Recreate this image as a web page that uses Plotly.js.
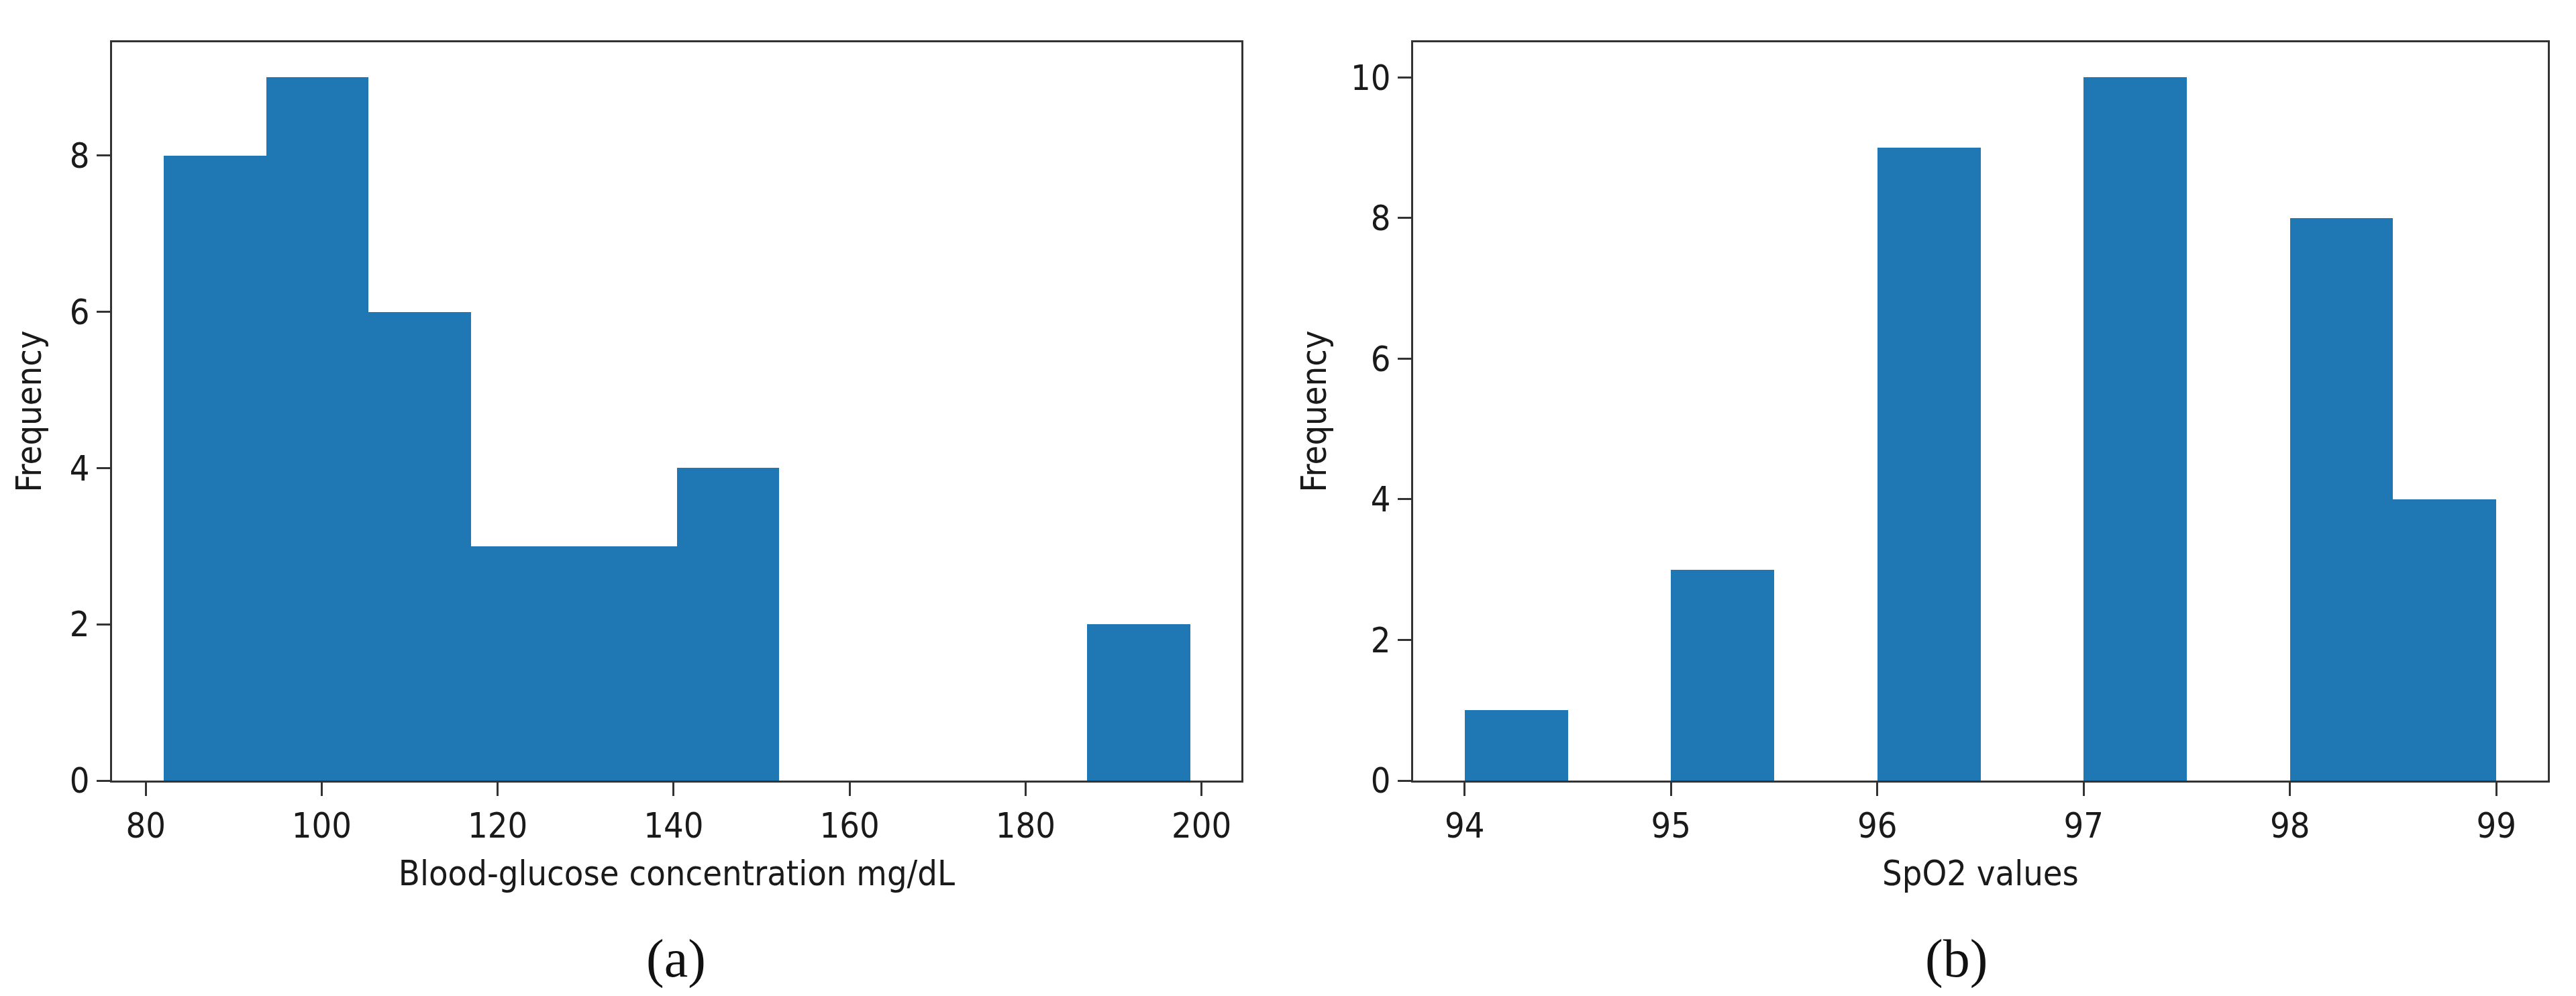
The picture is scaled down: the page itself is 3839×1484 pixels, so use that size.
<!DOCTYPE html>
<html>
<head>
<meta charset="utf-8">
<script src="https://cdn.plot.ly/plotly-3.0.1.min.js"></script>
<style>
  html, body { margin: 0; padding: 0; background: #ffffff; }
  #chart { width: 3839px; height: 1484px; }
</style>
</head>
<body>
<div id="chart"></div>
<script>
// ---- Data ----
// (a) Blood-glucose histogram: bin edges (mg/dL) and counts
const glucoseEdges = [82.0, 93.7, 105.3, 117.0, 128.7, 140.4, 152.0, 163.7, 175.4, 187.0, 198.7];
const glucoseCounts = [8, 9, 6, 3, 3, 4, 0, 0, 0, 2];
const glucoseTicks = [80, 100, 120, 140, 160, 180, 200];
const glucoseYTicks = [0, 2, 4, 6, 8];

// (b) SpO2 histogram: bin edges (%) and counts
const spo2Edges = [94.0, 94.5, 95.0, 95.5, 96.0, 96.5, 97.0, 97.5, 98.0, 98.5, 99.0];
const spo2Counts = [1, 0, 3, 0, 9, 0, 10, 0, 8, 4];
const spo2Ticks = [94, 95, 96, 97, 98, 99];
const spo2YTicks = [0, 2, 4, 6, 8, 10];

const xTitleA = 'Blood-glucose concentration mg/dL';
const xTitleB = 'SpO2 values';
const yTitle = 'Frequency';
const panelLabels = ['(a)', '(b)'];

// ---- Helpers ----
function centers(edges) { const c = []; for (let i = 0; i < edges.length - 1; i++) c.push((edges[i] + edges[i + 1]) / 2); return c; }
function widths(edges) { const w = []; for (let i = 0; i < edges.length - 1; i++) w.push(edges[i + 1] - edges[i]); return w; }
function padRange(edges) { const lo = edges[0], hi = edges[edges.length - 1], m = (hi - lo) * 0.05; return [lo - m, hi + m]; }
function yRange(counts) { return [0, Math.max.apply(null, counts) * 1.05]; }

const W = 3839, H = 1484;
const barColor = '#1f77b4';
const axisColor = '#333333';
const fontFam = '"DejaVu Sans Condensed", "DejaVu Sans", sans-serif';
const tickFont = { family: fontFam, size: 52, color: '#1a1a1a' };
const titleFont = { family: fontFam, size: 52, color: '#1a1a1a' };

const traces = [
  { type: 'bar', x: centers(glucoseEdges), y: glucoseCounts, width: widths(glucoseEdges),
    marker: { color: barColor, line: { width: 0 } }, xaxis: 'x', yaxis: 'y', hoverinfo: 'x+y' },
  { type: 'bar', x: centers(spo2Edges), y: spo2Counts, width: widths(spo2Edges),
    marker: { color: barColor, line: { width: 0 } }, xaxis: 'x2', yaxis: 'y2', hoverinfo: 'x+y' }
];

function baseAxis(extra) {
  return Object.assign({
    showline: true, mirror: true, linecolor: axisColor, linewidth: 3,
    ticks: 'outside', ticklen: 20, tickwidth: 3, tickcolor: axisColor,
    showgrid: false, zeroline: false, tickfont: tickFont, fixedrange: true
  }, extra);
}

const yBottom = (H - 1163) / H, yTop = (H - 63) / H;

const layout = {
  width: W, height: H,
  margin: { l: 0, r: 0, t: 0, b: 0 },
  paper_bgcolor: '#ffffff', plot_bgcolor: '#ffffff',
  showlegend: false, bargap: 0,
  xaxis: baseAxis({ domain: [167 / W, 1850 / W], range: padRange(glucoseEdges), tickmode: 'array', tickvals: glucoseTicks,
    anchor: 'y', title: { text: xTitleA, font: titleFont, standoff: 24 } }),
  yaxis: baseAxis({ domain: [yBottom, yTop], range: yRange(glucoseCounts), tickmode: 'array', tickvals: glucoseYTicks,
    anchor: 'x', title: { text: yTitle, font: titleFont, standoff: 26 } }),
  xaxis2: baseAxis({ domain: [2106 / W, 3797 / W], range: padRange(spo2Edges), tickmode: 'array', tickvals: spo2Ticks,
    anchor: 'y2', title: { text: xTitleB, font: titleFont, standoff: 24 } }),
  yaxis2: baseAxis({ domain: [yBottom, yTop], range: yRange(spo2Counts), tickmode: 'array', tickvals: spo2YTicks,
    anchor: 'x2', title: { text: yTitle, font: titleFont, standoff: 20 } }),
  annotations: [
    { text: panelLabels[0], xref: 'paper', yref: 'paper', x: 1008 / W, y: (H - 1428) / H, xanchor: 'center', yanchor: 'middle',
      showarrow: false, font: { family: '"Liberation Serif", "Times New Roman", serif', size: 80, color: '#111111' } },
    { text: panelLabels[1], xref: 'paper', yref: 'paper', x: 2915 / W, y: (H - 1428) / H, xanchor: 'center', yanchor: 'middle',
      showarrow: false, font: { family: '"Liberation Serif", "Times New Roman", serif', size: 80, color: '#111111' } }
  ]
};

Plotly.newPlot('chart', traces, layout, { staticPlot: true, displayModeBar: false });
</script>
</body>
</html>
